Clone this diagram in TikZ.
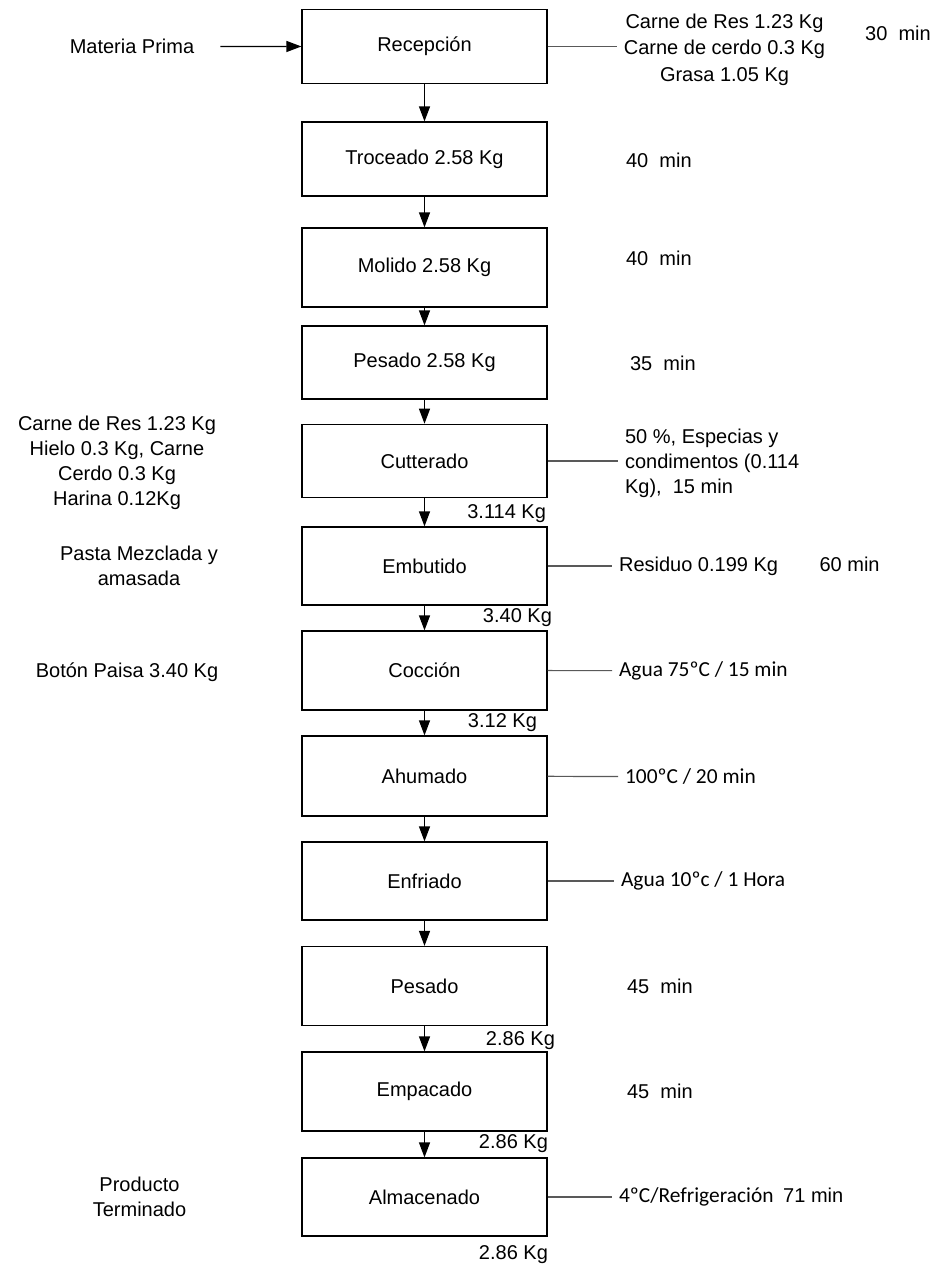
\documentclass[tikz,border=0pt]{standalone}
\usepackage{fontspec}
\setmainfont{Liberation Sans}
\newfontfamily\calibri{Carlito}
\usetikzlibrary{arrows.meta}

\begin{document}
\begin{tikzpicture}[x=0.5pt, y=-0.5pt,
	proceso/.style={draw, line width=0.6pt, minimum width=122.5pt, font=\fontsize{10}{12}\selectfont},
	texto/.style={font=\fontsize{10}{12.5}\selectfont, align=center},
	textoc/.style={font=\calibri\fontsize{10.7}{12.5}\selectfont},
	flecha/.style={-{Triangle[length=7.5pt,width=5.5pt]}, line width=0.6pt},
	linea/.style={draw=black!65, line width=0.6pt}]
	\useasboundingbox (0,0) rectangle (940,1269);
	% Boxes of the process:
	\node[proceso, minimum height=37pt] (recepcion) at (424.5, 46.3){Recepción};
	\node[proceso, minimum height=37pt] (troceado) at (424.5, 159){Troceado 2.58 Kg};
	\node[proceso, minimum height=39.5pt] (molido) at (424.5, 267.5){Molido 2.58 Kg};
	\node[proceso, minimum height=36.5pt] (pesadoa) at (424.5, 362.5){Pesado 2.58 Kg};
	\node[proceso, minimum height=36.7pt] (cutterado) at (424.5, 461){Cutterado};
	\node[proceso, minimum height=39pt] (embutido) at (424.5, 566){Embutido};
	\node[proceso, minimum height=39.5pt] (coccion) at (424.5, 670.5){Cocción};
	\node[proceso, minimum height=40pt] (ahumado) at (424.5, 776){Ahumado};
	\node[proceso, minimum height=39pt] (enfriado) at (424.5, 881){Enfriado};
	\node[proceso, minimum height=39.5pt] (pesadob) at (424.5, 986){Pesado};
	\node[proceso, minimum height=39.5pt] (empacado) at (424.5, 1091.5){Empacado};
	\node[proceso, minimum height=39pt] (almacenado) at (424.5, 1197){Almacenado};
	% Arrows between the boxes:
	\draw[flecha] (recepcion) -- (troceado);
	\draw[flecha] (troceado) -- (molido);
	\draw[flecha] (molido) -- (pesadoa);
	\draw[flecha] (pesadoa) -- (cutterado);
	\draw[flecha] (cutterado) -- (embutido);
	\draw[flecha] (embutido) -- (coccion);
	\draw[flecha] (coccion) -- (ahumado);
	\draw[flecha] (ahumado) -- (enfriado);
	\draw[flecha] (enfriado) -- (pesadob);
	\draw[flecha] (pesadob) -- (empacado);
	\draw[flecha] (empacado) -- (almacenado);
	% Left texts:
	\node[texto] (materia) at (132, 46.7){Materia Prima};
	\node[texto] (ingredientes) at (117, 463){Carne de Res 1.23 Kg\\Hielo 0.3 Kg, Carne\\Cerdo 0.3 Kg\\Harina 0.12Kg};
	\node[texto] (pasta) at (139, 565.5){Pasta Mezclada y\\amasada};
	\node[texto] (boton) at (127, 672){Botón Paisa 3.40 Kg};
	\node[texto] (producto) at (139.5, 1196.5){Producto\\Terminado};
	\draw[flecha, shorten <=9.5pt] (materia) -- (recepcion);
	% Right texts:
	\node[texto, font=\fontsize{10}{13.25}\selectfont] (carnes) at (724.5, 49.5){Carne de Res 1.23 Kg\\Carne de cerdo 0.3 Kg\\Grasa 1.05 Kg};
	\node[texto] (trecep) at (898, 33){30\ \ min};
	\node[texto, anchor=west] (ttroc) at (619, 160){40\ \ min};
	\node[texto, anchor=west] (tmol) at (619, 258){40\ \ min};
	\node[texto, anchor=west] (tpes) at (623, 363){35\ \ min};
	\node[texto, anchor=west, align=left] (especias) at (618, 463.5){50 \%, Especias y\\condimentos (0.114\\Kg),\ \ 15 min};
	\node[texto, anchor=west] (residuo) at (612, 566){Residuo 0.199 Kg\hspace{18pt} 60 min};
	\node[textoc, anchor=west] (agua) at (612, 670.7){Agua 75ºC / 15 min};
	\node[textoc, anchor=west] (humo) at (618, 776.7){100ºC / 20 min};
	\node[textoc, anchor=west] (frio) at (614, 881){Agua 10ºc / 1 Hora};
	\node[texto, anchor=west] (tpesb) at (620, 986){45\ \ min};
	\node[texto, anchor=west] (temp) at (620, 1091){45\ \ min};
	\node[textoc, anchor=west] (refri) at (612, 1197){4ºC/Refrigeración\ \ \fontsize{10}{12}\rmfamily 71 min};
	\draw[linea] (recepcion.east) -- (recepcion.east -| carnes.west);
	\draw[linea] (cutterado.east) -- (cutterado.east -| especias.west);
	\draw[linea] (embutido) -- (residuo);
	\draw[linea] (coccion) -- (agua);
	\draw[linea] (ahumado) -- (humo);
	\draw[linea] (enfriado) -- (frio);
	\draw[linea] (almacenado) -- (refri);
	% Weights under the boxes:
	\node[texto, anchor=east] (kgcut) at (553, 514){3.114 Kg};
	\node[texto, anchor=east] (kgemb) at (559, 618){3.40 Kg};
	\node[texto, anchor=east] (kgcoc) at (544, 723){3.12 Kg};
	\node[texto, anchor=east] (kgpes) at (562, 1041){2.86 Kg};
	\node[texto, anchor=east] (kgemp) at (555, 1144){2.86 Kg};
	\node[texto, anchor=east] (kgalm) at (555, 1255){2.86 Kg};
\end{tikzpicture}
\end{document}
